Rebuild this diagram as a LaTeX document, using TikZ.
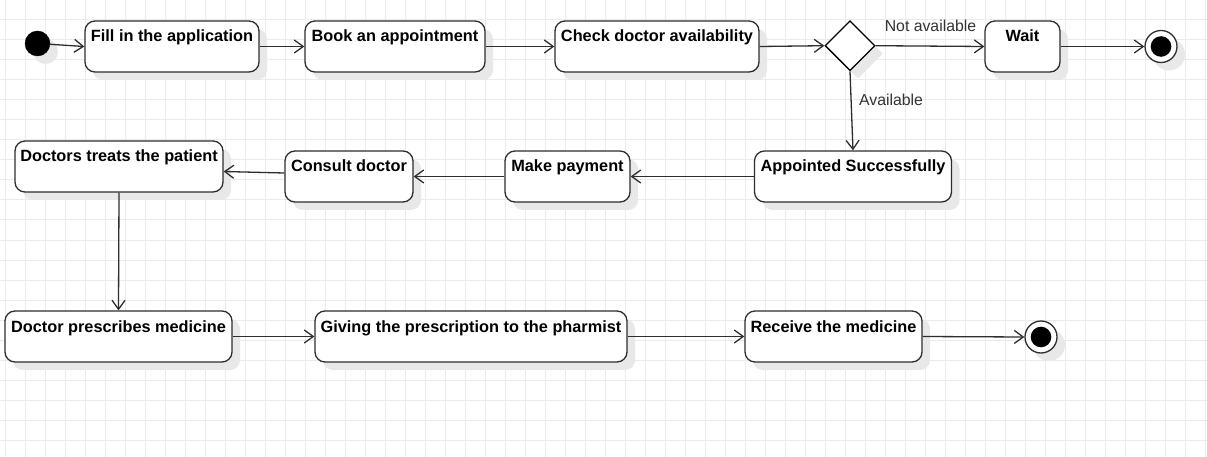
\documentclass[tikz,border=0pt]{standalone}
\usepackage{fontspec}
\setmainfont{Liberation Sans}
\usetikzlibrary{arrows.meta,shapes.geometric,shadows}
\definecolor{gridc}{HTML}{EBEBEB}
\definecolor{linec}{HTML}{2E2E2E}
\definecolor{shadc}{HTML}{E8E8E8}
\tikzset{
  shad/.style={drop shadow={shadow xshift=8pt,shadow yshift=-8pt,fill=shadc,opacity=1}},
  act/.style={shad,draw=linec,fill=white,line width=1.3pt,rectangle,rounded corners=10pt,
    inner xsep=0pt,inner ysep=0pt,text height=21pt,text depth=30pt,
    font=\fontsize{16.3}{19}\selectfont\bfseries},
  startnode/.style={shad,circle,fill=black,draw=black,minimum size=25pt,inner sep=0pt},
  endnode/.style={shad,circle,fill=white,draw=linec,line width=1.3pt,minimum size=32pt,inner sep=0pt,
    path picture={\fill[black] (path picture bounding box.center) circle[radius=10.3pt];}},
  dec/.style={shad,diamond,draw=black,fill=white,line width=1.3pt,minimum width=50pt,minimum height=50pt,inner sep=0pt},
  flow/.style={draw=linec,line width=1.3pt,-{Straight Barb[length=9pt,width=13pt,line width=1.3pt]}},
  lbl/.style={font=\fontsize{15.8}{19}\selectfont,text=black!80,inner sep=0pt}
}
\begin{document}
\begin{tikzpicture}[x=1pt,y=-1pt]
\useasboundingbox (0,0) rectangle (1207,457);
\fill[white] (0,0) rectangle (1207,457);
\foreach \gx in {5,25,...,1205} \draw[gridc,line width=1pt] (\gx,0) -- (\gx,457);
\foreach \gy in {0,20,...,456} \draw[gridc,line width=1pt] (0,\gy) -- (1207,\gy);

% row 1
\node[startnode] (start) at (37.5,43.5) {};
\node[act,minimum width=174pt] (fill) at (172,46.5) {Fill in the application};
\node[act,minimum width=180pt] (book) at (395,46.5) {Book an appointment};
\node[act,minimum width=204pt] (check) at (657,46.5) {Check doctor availability};
\node[dec] (dec) at (850,45.7) {};
\node[act,minimum width=75pt] (wait) at (1022.5,46.5) {Wait};
\node[endnode] (end1) at (1161,46.5) {};

% row 2
\node[act,minimum width=197pt] (appt) at (853,176.5) {Appointed Successfully};
\node[act,minimum width=125pt] (pay) at (567.5,176.5) {Make payment};
\node[act,minimum width=128pt] (consult) at (349,176.5) {Consult doctor};
\node[act,minimum width=208pt] (treat) at (119,166.5) {Doctors treats the patient};

% row 3
\node[act,minimum width=227pt] (presc) at (118.5,336.5) {Doctor prescribes medicine};
\node[act,minimum width=312pt] (give) at (471,336.5) {Giving the prescription to the pharmist};
\node[act,minimum width=177pt] (recv) at (833.5,336.5) {Receive the medicine};
\node[endnode] (end2) at (1041,337) {};

% connectors
\draw[flow] (start) -- (fill.west);
\draw[flow] (fill) -- (book);
\draw[flow] (book) -- (check);
\draw[flow] (check.east) -- (dec.west);
\draw[flow] (dec.east) -- (wait.west);
\draw[flow] (wait.east) -- (end1.west);
\draw[flow] (dec.south) -- (appt.north);
\draw[flow] (appt) -- (pay);
\draw[flow] (pay) -- (consult);
\draw[flow] ([yshift=3.5pt]consult.west) -- ([yshift=-5pt]treat.east);
\draw[flow] (treat.south) -- (presc.north);
\draw[flow] (presc) -- (give);
\draw[flow] (give) -- (recv);
\draw[flow] (recv.east) -- (end2.west);

% labels
\node[lbl,anchor=base] (lna) at (930.5,32) {Not available};
\node[lbl,anchor=base west] (lav) at (859,105.5) {Available};
\end{tikzpicture}
\end{document}
